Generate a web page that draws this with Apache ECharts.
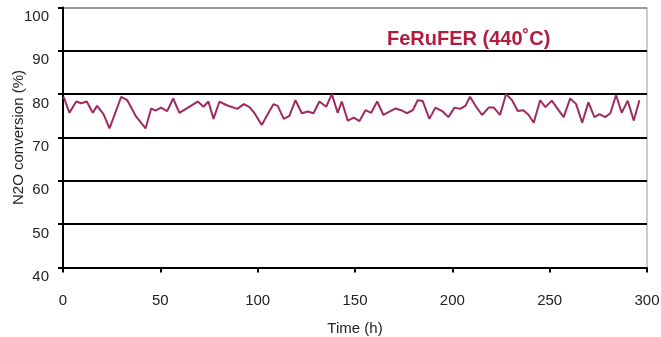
<!DOCTYPE html>
<html>
<head>
<meta charset="utf-8">
<script src="https://cdn.jsdelivr.net/npm/echarts@6/dist/echarts.min.js"></script>
<style>
  html, body { margin: 0; padding: 0; background: #fff; }
  #chart { width: 661px; height: 337px; }
</style>
</head>
<body>
<div id="chart"></div>
<script>
// time on stream (h) and N2O conversion (%)
var hours = [
  0.3, 3.3, 6.8, 9.3, 12.2, 15.3, 17.5, 20.8, 23.9, 29.9,
  33.0, 37.6, 42.4, 45.3, 47.5, 50.4, 53.5, 56.6, 59.8, 69.2,
  72.2, 74.7, 77.3, 80.4, 83.8, 89.5, 92.9, 95.8, 98.4, 102.1,
  105.2, 108.1, 110.3, 113.4, 116.3, 119.4, 122.7, 125.7, 128.7, 131.7,
  135.2, 138.1, 141.1, 143.2, 146.3, 149.4, 152.3, 155.4, 158.3, 161.4,
  164.6, 170.8, 173.7, 176.6, 179.7, 182.2, 184.8, 188.2, 191.3, 194.8,
  198.0, 201.1, 204.0, 206.7, 209.1, 212.2, 215.3, 218.7, 221.3, 224.5,
  227.6, 230.7, 233.6, 236.5, 239.2, 241.8, 245.1, 247.8, 251.1, 254.1,
  257.2, 260.5, 263.6, 266.7, 269.9, 273.0, 275.6, 278.5, 281.2, 284.1,
  287.0, 290.1, 293.2, 296.1
];
var conversion = [
  79.4, 75.7, 78.3, 77.9, 78.3, 75.7, 77.3, 75.4, 72.1, 79.4,
  78.6, 74.8, 72.1, 76.7, 76.2, 76.9, 76.1, 79.0, 75.7, 78.3,
  77.1, 78.3, 74.3, 78.3, 77.5, 76.6, 77.7, 77.0, 75.6, 72.9,
  75.4, 77.7, 77.3, 74.3, 75.0, 78.6, 75.6, 76.0, 75.6, 78.3,
  77.1, 80.0, 75.7, 78.3, 73.9, 74.6, 73.8, 76.3, 75.7, 78.3,
  75.2, 76.7, 76.3, 75.6, 76.3, 78.6, 78.4, 74.3, 76.9, 76.1,
  74.7, 76.9, 76.6, 77.3, 79.4, 77.1, 75.2, 76.9, 76.9, 75.2,
  80.0, 78.6, 76.1, 76.3, 75.2, 73.4, 78.6, 77.0, 78.5, 76.6,
  74.7, 79.0, 77.7, 73.4, 78.1, 74.7, 75.4, 74.7, 75.6, 79.8,
  75.7, 78.5, 73.9, 78.6
];
var seriesLabel = 'FeRuFER (440˚C)';

var points = hours.map(function (h, i) {
  return [h, conversion[i]];
});

var chartDom = document.getElementById('chart');
var myChart = echarts.init(chartDom);

var font = 'Arial, "Liberation Sans", sans-serif';

var option = {
  animation: false,
  grid: {
    left: 63,
    right: 14,
    top: 7.5,
    bottom: 69.5,
    outerBoundsMode: 'none',
    containLabel: false,
    show: true,
    borderColor: '#999',
    borderWidth: 1
  },
  xAxis: {
    type: 'value',
    min: 0,
    max: 300,
    interval: 50,
    name: 'Time (h)',
    nameLocation: 'middle',
    nameGap: 54,
    nameMoveOverlap: false,
    nameTextStyle: { color: '#222', fontSize: 15, fontFamily: font },
    axisLine: { show: true, lineStyle: { color: '#000', width: 2 } },
    axisTick: { show: true, length: 5, lineStyle: { color: '#000', width: 2 } },
    axisLabel: { color: '#222', fontSize: 15, fontFamily: font, margin: 26 },
    splitLine: { show: false }
  },
  yAxis: {
    type: 'value',
    min: 40,
    max: 100,
    interval: 10,
    name: 'N2O conversion (%)',
    nameLocation: 'middle',
    nameGap: 37,
    nameMoveOverlap: false,
    nameTextStyle: { color: '#222', fontSize: 15, fontFamily: font },
    axisLine: { show: true, lineStyle: { color: '#000', width: 2 } },
    axisTick: { show: true, length: 5, lineStyle: { color: '#000', width: 2 } },
    axisLabel: {
      color: '#222', fontSize: 15, fontFamily: font, margin: 14,
      verticalAlign: 'top', padding: [2, 0, 0, 0]
    },
    splitLine: {
      show: true,
      lineStyle: {
        color: ['#000', '#000', '#000', '#000', '#000', '#000', '#999'],
        width: 2
      }
    }
  },
  series: [
    {
      type: 'line',
      name: seriesLabel,
      data: points,
      symbol: 'none',
      lineStyle: { color: '#9e2b5f', width: 2 }
    }
  ],
  graphic: [
    {
      type: 'text',
      left: 387,
      top: 29,
      style: {
        text: seriesLabel,
        fill: '#b01e3e',
        font: 'bold 20px ' + font
      }
    }
  ]
};

option && myChart.setOption(option);
</script>
</body>
</html>
